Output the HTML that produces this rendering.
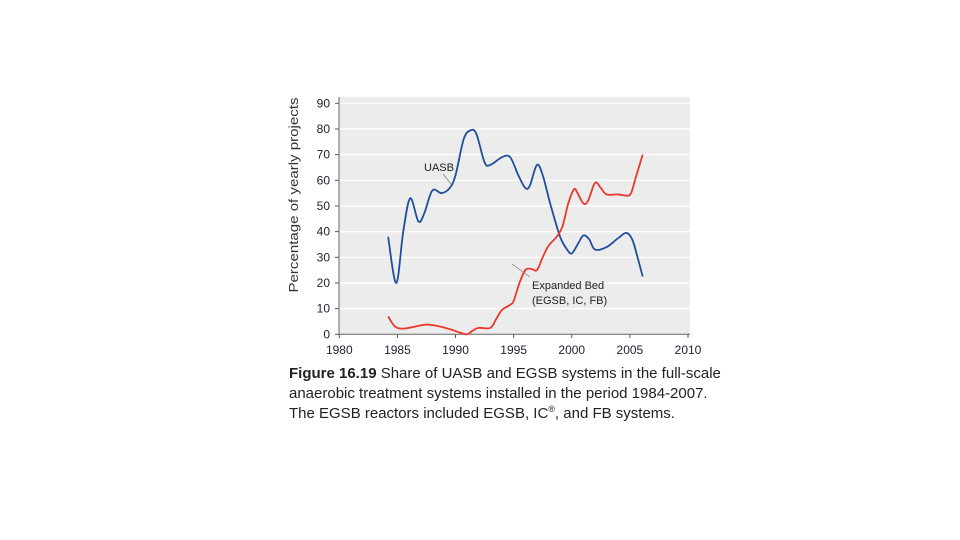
<!DOCTYPE html>
<html><head><meta charset="utf-8"><style>
html,body{margin:0;padding:0;background:#fff;width:960px;height:540px;overflow:hidden}
svg{display:block}
text{font-family:"Liberation Sans",sans-serif}
</style></head><body>
<svg id="chart" width="960" height="540">
<rect x="339" y="97" width="351" height="237" fill="#ececec"/>
<g id="grid"></g>
<g id="axes"></g>
<g id="series"></g>
<text x="298" y="195" font-size="13" fill="#333" text-anchor="middle" textLength="195" lengthAdjust="spacingAndGlyphs" transform="rotate(-90 298 195)">Percentage of yearly projects</text>
<text x="424" y="171" font-size="11" fill="#222">UASB</text>
<line x1="443" y1="174" x2="451" y2="184" stroke="#777" stroke-width="0.7"/>
<text x="532" y="289" font-size="11" fill="#222">Expanded Bed</text>
<text x="532" y="304" font-size="11" fill="#222">(EGSB, IC, FB)</text>
<line x1="530" y1="277" x2="512" y2="264" stroke="#777" stroke-width="0.7"/>
<text font-size="15" fill="#222">
<tspan x="289" y="378"><tspan font-weight="bold">Figure 16.19</tspan> Share of UASB and EGSB systems in the full-scale</tspan>
<tspan x="289" y="398">anaerobic treatment systems installed in the period 1984-2007.</tspan>
<tspan x="289" y="418">The EGSB reactors included EGSB, IC<tspan font-size="9" dy="-6">®</tspan><tspan dy="6">, and FB systems.</tspan></tspan>
</text>
</svg>
<script>
const xTicks=[1980,1985,1990,1995,2000,2005,2010];
const yTicks=[0,10,20,30,40,50,60,70,80,90];
const uasbYears=[1984.2,1984.9,1985.5,1986.1,1986.8,1987.3,1988,1988.8,1989.5,1990,1990.7,1991.3,1991.8,1992.5,1993,1994,1994.7,1995.4,1996,1996.4,1997,1997.5,1998.2,1999,1999.6,2000,2000.5,2001,2001.5,2002,2003,2004,2004.7,2005.2,2005.6,2006.1];
const uasbValues=[38,20,40,53,44,47,56,55,57,62,76,79.5,78,67,66,69,69,62,57,58,66,62,50,38,33,31.5,35,38.5,37,33,34,37.5,39.5,37,31,22.5];
const ebYears=[1984.2,1984.8,1985.5,1986.5,1987.5,1988.5,1989.5,1990.5,1991,1991.5,1992,1993,1993.5,1994,1994.7,1995,1995.5,1996,1996.5,1997,1997.5,1998,1998.7,1999.2,1999.7,2000.2,2000.5,2001,2001.4,2002,2002.5,2003,2004,2004.7,2005.1,2005.5,2006.1];
const ebValues=[7,3,2.2,3,3.8,3.2,2,0.5,0,1.5,2.5,2.5,6,9.5,11.5,13,20,25,25.5,25,30,34.5,38,42,51,56.5,55,51,52,59,57,54.5,54.5,54,55,61,70];
const X=v=>339.3+(v-1980)*(688-339.3)/30;
const Y=v=>334.3-v*(334.3-103.3)/90;
const NS="http://www.w3.org/2000/svg";
const mk=(t,a,p)=>{const e=document.createElementNS(NS,t);for(const k in a)e.setAttribute(k,a[k]);p.appendChild(e);return e;};
const grid=document.getElementById('grid'),axes=document.getElementById('axes'),ser=document.getElementById('series');
yTicks.forEach(t=>{
  if(t>0){const l=mk('line',{x1:339,x2:690,y1:Y(t),y2:Y(t),stroke:'#fff','stroke-width':1.2},grid);
  
  }
  const tk=mk('line',{x1:335,x2:339,y1:Y(t),y2:Y(t),stroke:'#555'},axes);
  
  
  const tx=mk('text',{x:330,y:Y(t)+4,'font-size':12,'text-anchor':'end',fill:'#223'},axes);
  tx.textContent=t;
  
  
});
xTicks.forEach(t=>{
  const tk=mk('line',{x1:X(t),x2:X(t),y1:334,y2:338,stroke:'#555'},axes);
  
  
  const tx=mk('text',{x:X(t),y:354,'font-size':12,'text-anchor':'middle',fill:'#223'},axes);
  tx.textContent=t;
  
  
});
const ya=mk('line',{x1:339,x2:339,y1:97,y2:334,stroke:'#666'},axes);


const xa=mk('line',{x1:339,x2:690,y1:334.3,y2:334.3,stroke:'#666'},axes);


function smooth(xs,ys){
  const p=xs.map((x,i)=>[X(x),Y(ys[i])]);
  let d='M'+p[0][0]+','+p[0][1];
  for(let i=0;i<p.length-1;i++){
    const p0=p[i-1]||p[i],p1=p[i],p2=p[i+1],p3=p[i+2]||p2;
    const c1=[p1[0]+(p2[0]-p0[0])/6,p1[1]+(p2[1]-p0[1])/6];
    const c2=[p2[0]-(p3[0]-p1[0])/6,p2[1]-(p3[1]-p1[1])/6];
    d+=`C${c1[0]},${c1[1]} ${c2[0]},${c2[1]} ${p2[0]},${p2[1]}`;
  }
  return d;
}
const u=mk('path',{d:smooth(uasbYears,uasbValues),fill:'none',stroke:'#1f4e9c','stroke-width':1.8},ser);


const e=mk('path',{d:smooth(ebYears,ebValues),fill:'none',stroke:'#e8392b','stroke-width':1.8},ser);


</script>
</body></html>
